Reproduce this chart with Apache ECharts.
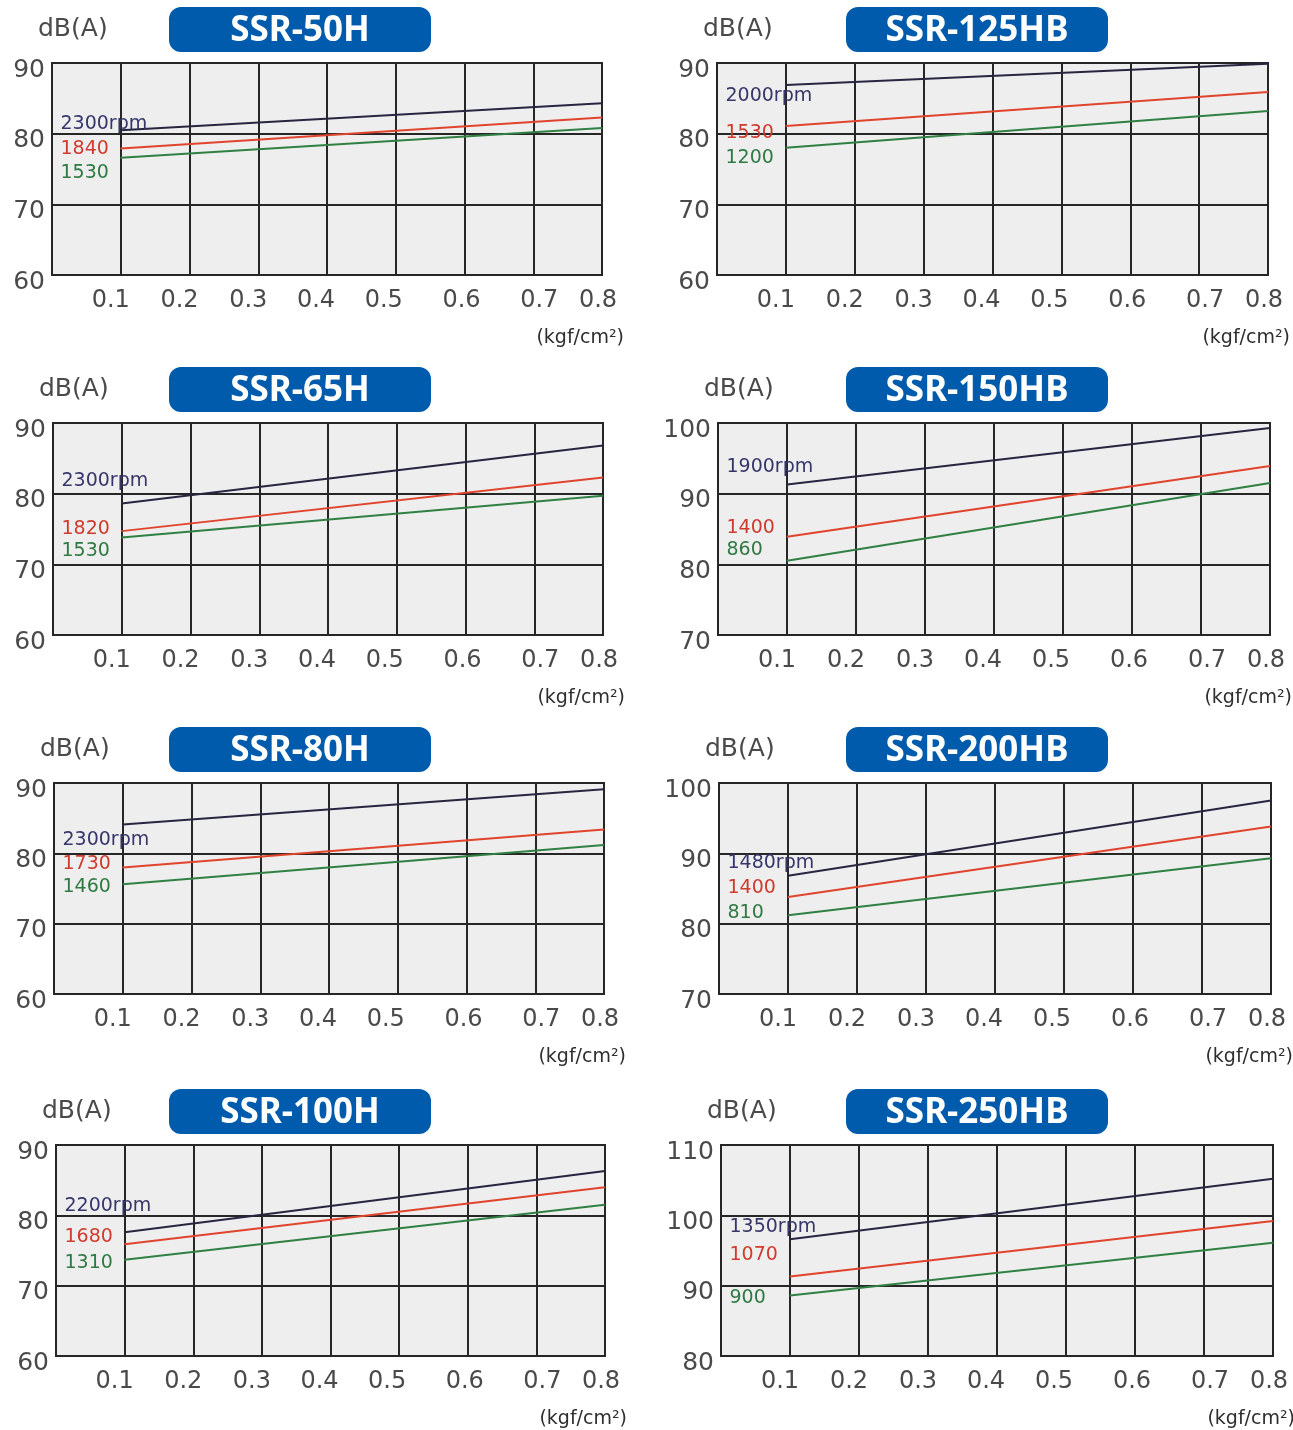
<!DOCTYPE html>
<html>
<head>
<meta charset="utf-8">
<script src="https://cdn.jsdelivr.net/npm/echarts/dist/echarts.min.js"></script>
<style>
html,body{margin:0;padding:0;background:#ffffff;}
#c{width:1293px;height:1430px;}
</style>
</head>
<body>
<div id="c"></div>
<script>
// ---------------- DATA ----------------
const models = ['SSR-50H', 'SSR-125HB', 'SSR-65H', 'SSR-150HB', 'SSR-80H', 'SSR-200HB', 'SSR-100H', 'SSR-250HB'];
const rpmLabels = [
  ['2300rpm', '1840', '1530'],
  ['2000rpm', '1530', '1200'],
  ['2300rpm', '1820', '1530'],
  ['1900rpm', '1400', '860'],
  ['2300rpm', '1730', '1460'],
  ['1480rpm', '1400', '810'],
  ['2200rpm', '1680', '1310'],
  ['1350rpm', '1070', '900']
];
// pressure (kgf/cm2) at the start and end of each curve
const pressure = [0.1, 0.8];
// dB(A) at pressure[0] and pressure[1]
const highRpm = [[80.5, 84.3], [86.9, 89.9], [78.6, 86.8], [91.3, 99.3], [84.1, 89.1], [86.8, 97.5], [77.6, 86.3], [96.6, 105.2]];
const midRpm  = [[77.9, 82.3], [81.1, 85.9], [74.7, 82.3], [83.9, 93.9], [78.0, 83.4], [83.8, 93.8], [75.9, 84.0], [91.3, 99.2]];
const lowRpm  = [[76.6, 80.8], [78.0, 83.2], [73.8, 79.7], [80.5, 91.5], [75.6, 81.2], [81.2, 89.3], [73.7, 81.5], [88.6, 96.1]];
const yMin = [60, 60, 60, 70, 60, 70, 60, 80];
const yMax = [90, 90, 90, 100, 90, 100, 90, 110];
const xTickLabels = ['0.1', '0.2', '0.3', '0.4', '0.5', '0.6', '0.7', '0.8'];
const yAxisName = 'dB(A)';
const xAxisUnit = '(kgf/cm²)';

// ---------------- LAYOUT / STYLE ----------------
const plotBoxes = [ // left, top, right, bottom (px)
  [52, 63, 602, 275], [717, 63, 1268, 275],
  [53, 423, 603, 635], [718, 423, 1270, 635],
  [54, 783, 604, 994], [719, 783, 1271, 994],
  [56, 1145, 605, 1356], [721, 1145, 1273, 1356]
];
const titleBoxX = [169, 846];
const lineColors = ['#262640', '#e0442c', '#2f8042'];
const labelColors = ['#36366a', '#cf3b2c', '#2e7a42'];
const labelDY = [
  [-6, 1, 16], [12, 8, 11], [-22, -2, 14], [-17, -8, -10],
  [16, -3, 3], [-12, -8, -2], [-26, -7, 4], [-12, -21, 3]
];
const xLabelShift = [-10, -10, -10, -11, -12, -3, 6, -4];
const FONT = '"DejaVu Sans", sans-serif';
const TEXT_GREY = '#4a4a4a';
const GRID_COLOR = '#262626';

const xRich = {};
xLabelShift.forEach((s, k) => {
  xRich['t' + (k + 1)] = {
    fontSize: 24, fontFamily: FONT, color: TEXT_GREY,
    padding: s < 0 ? [0, -2 * s, 0, 0] : [0, 0, 0, 2 * s]
  };
});
const yRich = {
  v: { fontSize: 25, fontFamily: FONT, color: TEXT_GREY, padding: [14, 0, 0, 0] }
};

const grids = [], xAxes = [], yAxes = [], series = [], graphics = [];
const rankData = [highRpm, midRpm, lowRpm];

models.forEach((m, i) => {
  const [L, T, R, B] = plotBoxes[i];
  const W = R - L, H = B - T;
  grids.push({
    left: L, top: T, width: W, height: H,
    show: true, backgroundColor: '#eeeeef', borderColor: GRID_COLOR, borderWidth: 2,
    containLabel: false, outerBoundsMode: 'none'
  });
  xAxes.push({
    type: 'value', gridIndex: i, min: 0, max: 0.8, interval: 0.1,
    axisLine: { show: false }, axisTick: { show: false },
    splitLine: { show: true, lineStyle: { color: GRID_COLOR, width: 2 } },
    axisLabel: {
      margin: 14, showMinLabel: true, showMaxLabel: true, hideOverlap: false,
      formatter: function (v) {
        const k = Math.round(v * 10);
        if (k < 1 || k > 8) return '';
        return '{t' + k + '|' + xTickLabels[k - 1] + '}';
      },
      rich: xRich
    }
  });
  yAxes.push({
    type: 'value', gridIndex: i, min: yMin[i], max: yMax[i], interval: 10,
    axisLine: { show: false }, axisTick: { show: false },
    splitLine: { show: true, lineStyle: { color: GRID_COLOR, width: 2 } },
    axisLabel: {
      margin: 7, showMinLabel: true, showMaxLabel: true, hideOverlap: false,
      formatter: function (v) { return '{v|' + v + '}'; },
      rich: yRich
    }
  });
  const labelDX = -W / 8 + 9;
  rankData.forEach((arr, r) => {
    series.push({
      type: 'line', xAxisIndex: i, yAxisIndex: i,
      data: [
        {
          value: [pressure[0], arr[i][0]],
          label: {
            show: true, formatter: rpmLabels[i][r],
            position: [labelDX, labelDY[i][r]], align: 'left', verticalAlign: 'middle',
            color: labelColors[r], fontSize: 19, fontFamily: FONT
          }
        },
        [pressure[1], arr[i][1]]
      ],
      symbol: 'circle', symbolSize: 1, showSymbol: true,
      lineStyle: { color: lineColors[r], width: 2 },
      itemStyle: { color: lineColors[r] },
      label: { show: false },
      emphasis: { disabled: true },
      silent: true, animation: false, z: 3
    });
  });
  // title box
  const bx = titleBoxX[i % 2], by = T - 56;
  graphics.push({
    type: 'rect', silent: true, z: 10,
    shape: { x: bx, y: by, width: 262, height: 45, r: 12 },
    style: { fill: '#005bac' }
  });
  graphics.push({
    type: 'text', silent: true, z: 11,
    style: {
      text: m, x: bx + 131, y: by + 24, align: 'center', verticalAlign: 'middle',
      fill: '#ffffff', font: 'bold 35px "Noto Sans", sans-serif'
    }
  });
  // y-axis name
  graphics.push({
    type: 'text', silent: true, z: 11,
    style: {
      text: yAxisName, x: L - 14, y: T - 34, align: 'left', verticalAlign: 'middle',
      fill: TEXT_GREY, font: '25px ' + FONT
    }
  });
  // x-axis unit
  graphics.push({
    type: 'text', silent: true, z: 11,
    style: {
      text: xAxisUnit, x: R + 22, y: B + 63, align: 'right', verticalAlign: 'middle',
      fill: '#2e2e2e', font: '19px ' + FONT
    }
  });
});

const chart = echarts.init(document.getElementById('c'), null, { renderer: 'canvas' });
chart.setOption({
  backgroundColor: '#ffffff',
  animation: false,
  grid: grids,
  xAxis: xAxes,
  yAxis: yAxes,
  series: series,
  graphic: graphics
});
</script>
</body>
</html>
